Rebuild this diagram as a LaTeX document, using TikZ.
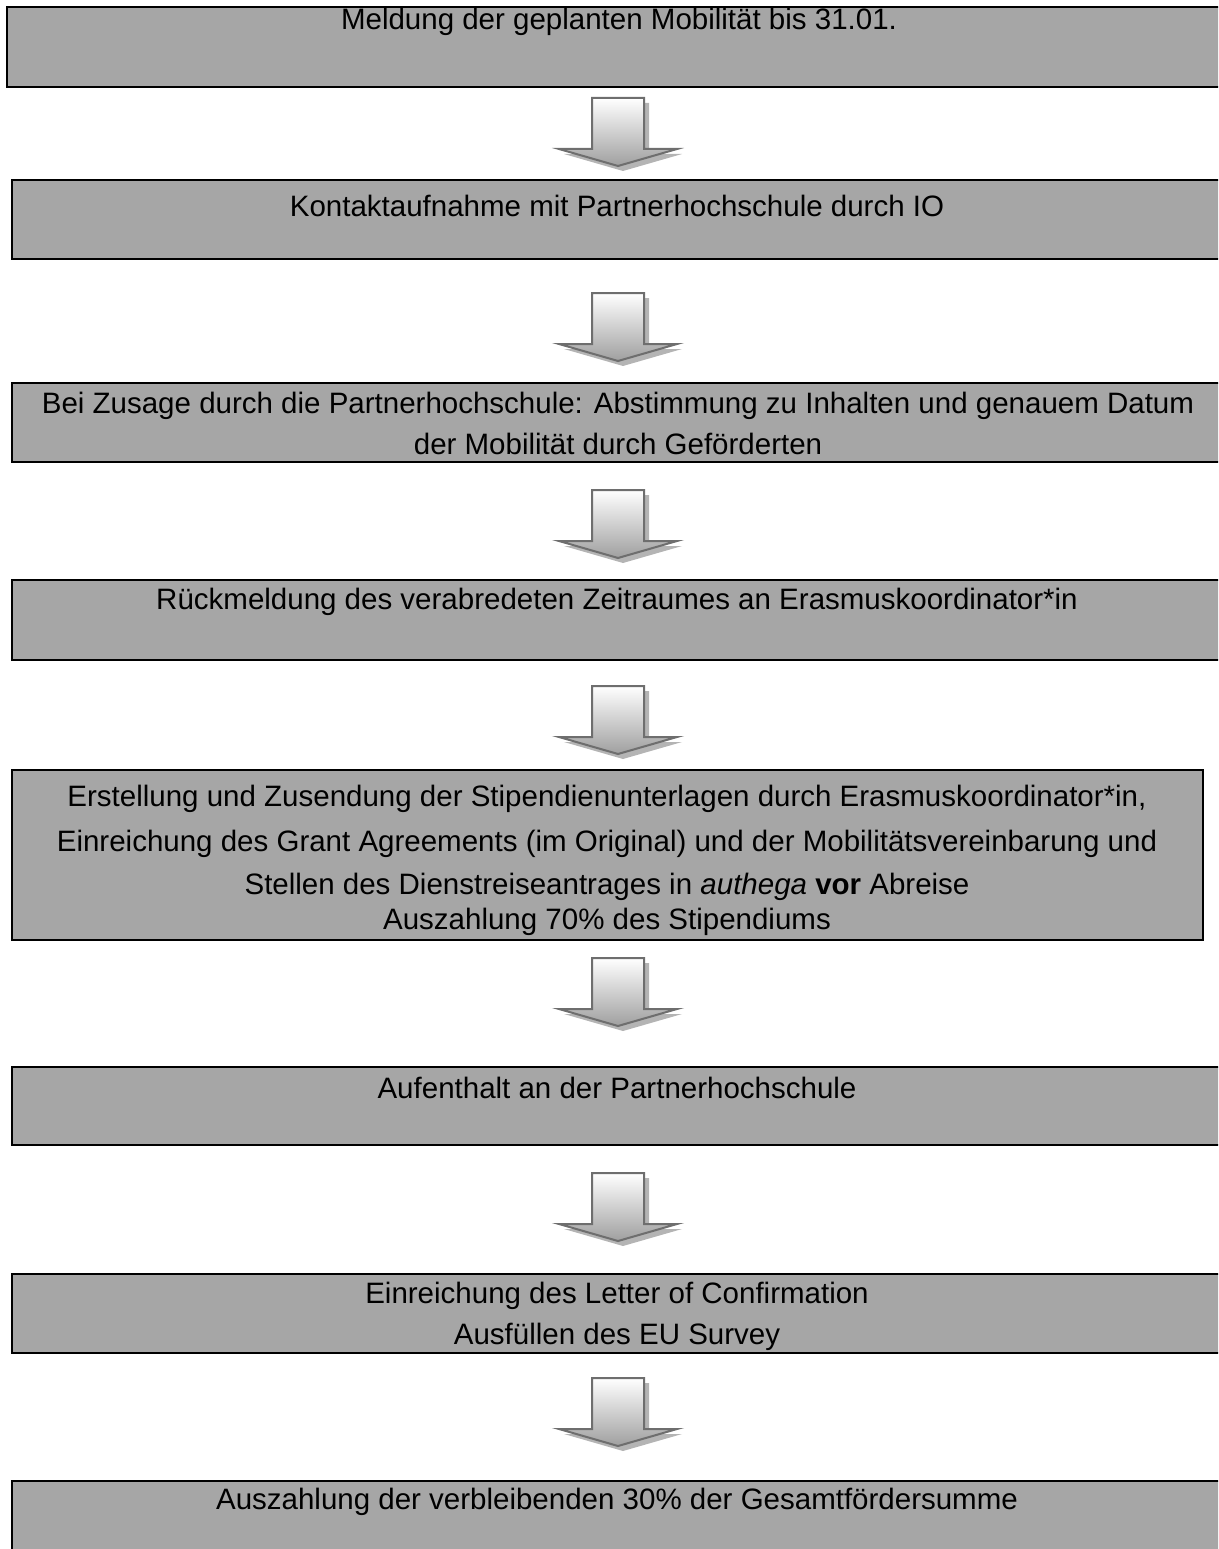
\documentclass[tikz,border=0pt]{standalone}
\usepackage{fontspec}
\setmainfont{Liberation Sans}
\definecolor{boxgray}{HTML}{A6A6A6}
\definecolor{arrowline}{HTML}{6E6E6E}
\definecolor{shadowgray}{HTML}{B4B4B4}
\tikzset{
  box/.style={draw=black, line width=2pt, fill=boxgray, anchor=north west, inner sep=0pt, outer sep=0pt},
  txt/.style={font=\fontsize{29.5}{33}\selectfont, anchor=base, inner sep=0pt},
  pics/downarrow/.style={code={
    \fill[shadowgray, shift={(5,5)}] (-26,0) -- (26,0) -- (26,51) -- (59,51) -- (0,68) -- (-59,51) -- (-26,51) -- cycle;
    \shade[top color=white, bottom color=gray!75, draw=arrowline, line width=2pt, line join=miter]
      (-26,0) -- (26,0) -- (26,51) -- (59,51) -- (0,68) -- (-59,51) -- (-26,51) -- cycle;
  }}
}
\begin{document}
\begin{tikzpicture}[x=1pt, y=-1pt]
\useasboundingbox (0,0) rectangle (1218,1549);
\clip (0,0) rectangle (1218,1549);
% boxes
\node[box, minimum width=1225pt, minimum height=80pt] (b1) at (7,7) {};
\node[box, minimum width=1220pt, minimum height=79pt] (b2) at (11.5,180) {};
\node[box, minimum width=1220pt, minimum height=79pt] (b3) at (11.5,383) {};
\node[box, minimum width=1220pt, minimum height=80pt] (b4) at (11.5,580) {};
\node[box, minimum width=1191pt, minimum height=170pt] (b5) at (11.5,770) {};
\node[box, minimum width=1220pt, minimum height=78pt] (b6) at (11.5,1067) {};
\node[box, minimum width=1220pt, minimum height=79pt] (b7) at (11.5,1274) {};
\node[box, minimum width=1220pt, minimum height=90pt] (b8) at (11.5,1481) {};
% texts
\node[txt] (t1) at (619,30) {Meldung der geplanten Mobilität bis 31.01.};
\node[txt] (t2) at (617,216) {Kontaktaufnahme mit Partnerhochschule durch IO};
\node[txt] (t3a) at (618,413) {Bei Zusage durch die Partnerhochschule: Abstimmung zu Inhalten und genauem Datum};
\node[txt] (t3b) at (618,454) {der Mobilität durch Geförderten};
\node[txt] (t4) at (617,609) {Rückmeldung des verabredeten Zeitraumes an Erasmuskoordinator*in};
\node[txt] (t5a) at (607,806) {Erstellung und Zusendung der Stipendienunterlagen durch Erasmuskoordinator*in,};
\node[txt] (t5b) at (607,851) {Einreichung des Grant Agreements (im Original) und der Mobilitätsvereinbarung und};
\node[txt] (t5c) at (607,894) {Stellen des Dienstreiseantrages in \textit{authega} \textbf{vor} Abreise};
\node[txt] (t5d) at (607,929) {Auszahlung 70\% des Stipendiums};
\node[txt] (t6) at (617,1098) {Aufenthalt an der Partnerhochschule};
\node[txt] (t7a) at (617,1303) {Einreichung des Letter of Confirmation};
\node[txt] (t7b) at (617,1344) {Ausfüllen des EU Survey};
\node[txt] (t8) at (617,1509) {Auszahlung der verbleibenden 30\% der Gesamtfördersumme};
% arrows
\pic at (618,98) {downarrow};
\pic at (618,293) {downarrow};
\pic at (618,490) {downarrow};
\pic at (618,686) {downarrow};
\pic at (618,958) {downarrow};
\pic at (618,1173) {downarrow};
\pic at (618,1378) {downarrow};
\end{tikzpicture}
\end{document}
